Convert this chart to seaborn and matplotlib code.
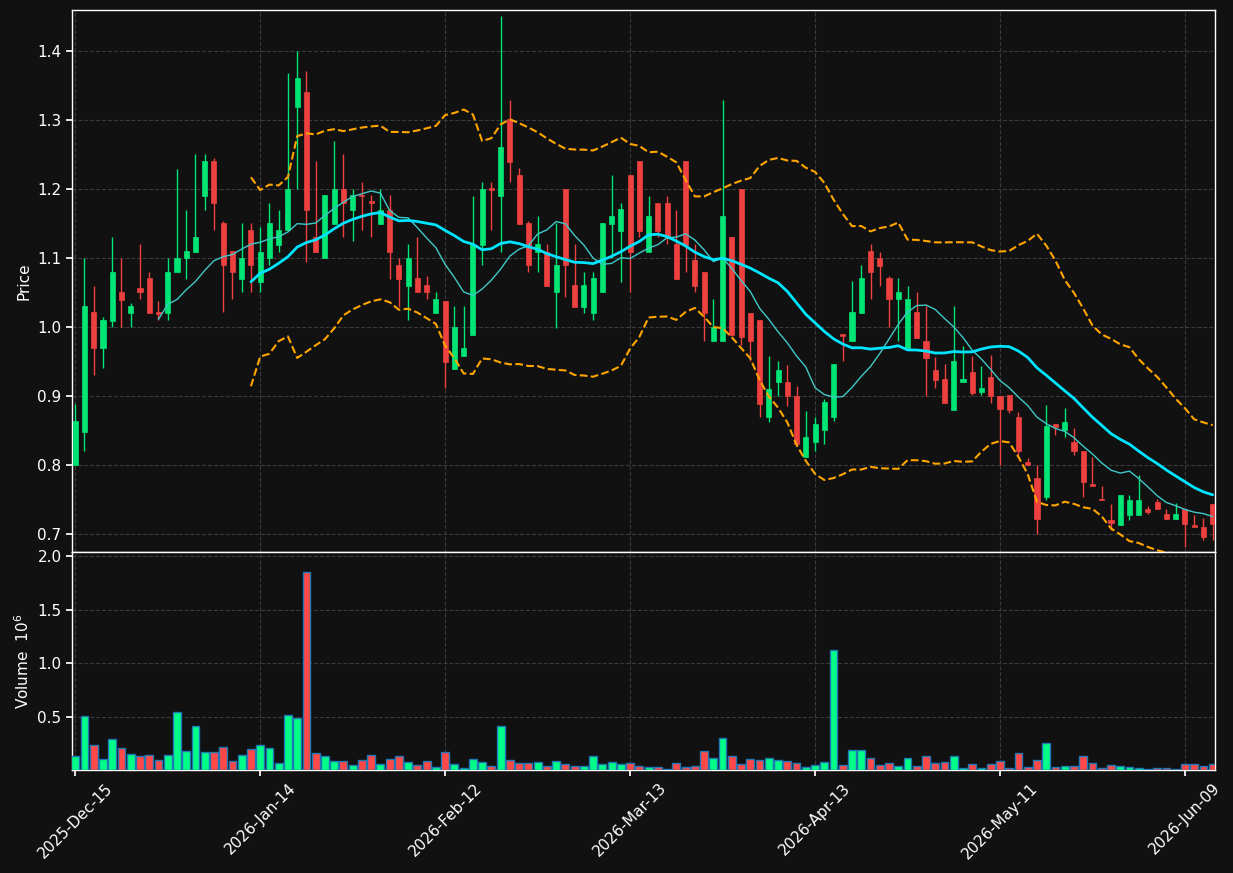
import numpy as np
import pandas as pd
import matplotlib
matplotlib.use("Agg")
import matplotlib.pyplot as plt
import seaborn as sns

# OHLC + volume (volume in millions), one row per trading session
opens = [0.800, 0.848, 1.021, 0.969, 1.009, 1.051, 1.020, 1.057, 1.071, 1.021,
         1.020, 1.080, 1.100, 1.109, 1.190, 1.240, 1.150, 1.110, 1.070, 1.140,
         1.065, 1.100, 1.119, 1.140, 1.318, 1.340, 1.130, 1.100, 1.149, 1.200,
         1.170, 1.191, 1.181, 1.149, 1.170, 1.090, 1.060, 1.071, 1.061, 1.020,
         1.037, 0.939, 0.958, 0.989, 1.119, 1.201, 1.190, 1.301, 1.220, 1.150,
         1.109, 1.109, 1.050, 1.200, 1.061, 1.029, 1.020, 1.050, 1.149, 1.139,
         1.220, 1.240, 1.108, 1.180, 1.180, 1.120, 1.240, 1.097, 1.080, 0.979,
         0.979, 1.130, 1.200, 1.020, 1.010, 0.870, 0.920, 0.920, 0.900, 0.812,
         0.834, 0.851, 0.870, 0.990, 0.979, 1.020, 1.110, 1.100, 1.071, 1.040,
         0.969, 1.021, 0.979, 0.937, 0.924, 0.880, 0.920, 0.934, 0.906, 0.928,
         0.900, 0.901, 0.869, 0.805, 0.781, 0.754, 0.859, 0.850, 0.834, 0.821,
         0.772, 0.750, 0.720, 0.713, 0.728, 0.728, 0.736, 0.746, 0.729, 0.722,
         0.736, 0.713, 0.710, 0.744]
highs = [0.888, 1.100, 1.060, 1.014, 1.130, 1.100, 1.035, 1.120, 1.080, 1.037,
         1.100, 1.229, 1.170, 1.250, 1.250, 1.245, 1.154, 1.110, 1.150, 1.150,
         1.145, 1.180, 1.170, 1.368, 1.400, 1.370, 1.240, 1.191, 1.270, 1.250,
         1.200, 1.210, 1.191, 1.200, 1.191, 1.100, 1.120, 1.130, 1.074, 1.050,
         1.037, 1.030, 1.030, 1.190, 1.210, 1.210, 1.450, 1.329, 1.230, 1.154,
         1.160, 1.120, 1.150, 1.200, 1.120, 1.080, 1.080, 1.150, 1.220, 1.180,
         1.220, 1.240, 1.190, 1.180, 1.190, 1.170, 1.240, 1.120, 1.080, 1.040,
         1.329, 1.130, 1.200, 1.020, 1.010, 0.958, 0.950, 0.945, 0.915, 0.878,
         0.870, 0.895, 0.947, 0.990, 1.066, 1.089, 1.120, 1.109, 1.074, 1.071,
         1.060, 1.051, 1.030, 0.957, 0.946, 1.030, 0.972, 0.958, 0.943, 0.959,
         0.900, 0.901, 0.877, 0.810, 0.800, 0.887, 0.859, 0.882, 0.854, 0.821,
         0.811, 0.769, 0.744, 0.757, 0.757, 0.786, 0.740, 0.751, 0.736, 0.745,
         0.736, 0.728, 0.723, 0.744]
lows = [0.800, 0.820, 0.930, 0.941, 1.000, 1.000, 1.000, 1.040, 1.020, 1.010,
        1.010, 1.080, 1.070, 1.109, 1.170, 1.140, 1.021, 1.040, 1.051, 1.051,
        1.051, 1.089, 1.109, 1.140, 1.200, 1.094, 1.108, 1.100, 1.149, 1.130,
        1.125, 1.140, 1.130, 1.149, 1.070, 1.029, 1.010, 1.050, 1.040, 1.020,
        0.912, 0.939, 0.958, 0.989, 1.089, 1.140, 1.109, 1.210, 1.149, 1.080,
        1.080, 1.060, 0.998, 1.044, 1.029, 1.020, 1.010, 1.050, 1.100, 1.065,
        1.050, 1.130, 1.108, 1.130, 1.120, 1.070, 1.080, 1.050, 0.979, 0.979,
        0.979, 0.989, 0.974, 0.950, 0.870, 0.863, 0.900, 0.885, 0.830, 0.812,
        0.821, 0.830, 0.864, 0.950, 0.979, 1.020, 1.040, 1.060, 1.000, 0.979,
        0.969, 0.984, 0.900, 0.911, 0.890, 0.880, 0.920, 0.901, 0.901, 0.890,
        0.800, 0.875, 0.812, 0.800, 0.700, 0.749, 0.843, 0.840, 0.815, 0.753,
        0.769, 0.749, 0.706, 0.713, 0.721, 0.728, 0.729, 0.736, 0.722, 0.722,
        0.681, 0.710, 0.691, 0.691]
closes = [0.864, 1.030, 0.969, 1.010, 1.080, 1.039, 1.030, 1.050, 1.020, 1.019,
          1.080, 1.100, 1.110, 1.130, 1.240, 1.180, 1.089, 1.080, 1.100, 1.089,
          1.108, 1.150, 1.140, 1.200, 1.360, 1.170, 1.108, 1.191, 1.200, 1.180,
          1.191, 1.189, 1.180, 1.170, 1.108, 1.070, 1.100, 1.050, 1.050, 1.040,
          0.949, 1.000, 0.970, 1.120, 1.200, 1.199, 1.260, 1.239, 1.149, 1.089,
          1.120, 1.060, 1.090, 1.089, 1.029, 1.061, 1.071, 1.150, 1.161, 1.171,
          1.109, 1.139, 1.161, 1.139, 1.130, 1.070, 1.119, 1.060, 1.020, 1.000,
          1.161, 0.989, 0.985, 0.979, 0.888, 0.910, 0.938, 0.900, 0.830, 0.840,
          0.860, 0.891, 0.947, 0.987, 1.021, 1.071, 1.080, 1.088, 1.040, 1.051,
          1.040, 0.984, 0.955, 0.923, 0.890, 0.950, 0.925, 0.905, 0.911, 0.900,
          0.881, 0.879, 0.820, 0.800, 0.722, 0.856, 0.855, 0.863, 0.820, 0.776,
          0.769, 0.749, 0.716, 0.757, 0.750, 0.750, 0.732, 0.736, 0.722, 0.729,
          0.715, 0.710, 0.695, 0.714]
volumes = [0.131, 0.509, 0.238, 0.106, 0.294, 0.209, 0.153, 0.131, 0.144, 0.097,
           0.144, 0.538, 0.181, 0.416, 0.172, 0.172, 0.219, 0.088, 0.144, 0.200,
           0.238, 0.209, 0.069, 0.519, 0.491, 1.850, 0.163, 0.134, 0.088, 0.088,
           0.050, 0.097, 0.144, 0.059, 0.106, 0.134, 0.078, 0.050, 0.088, 0.028,
           0.172, 0.059, 0.019, 0.106, 0.078, 0.038, 0.416, 0.097, 0.069, 0.069,
           0.078, 0.038, 0.088, 0.059, 0.038, 0.038, 0.134, 0.059, 0.078, 0.059,
           0.069, 0.038, 0.028, 0.028, 0.013, 0.069, 0.028, 0.038, 0.181, 0.116,
           0.303, 0.134, 0.059, 0.106, 0.097, 0.116, 0.097, 0.088, 0.069, 0.028,
           0.050, 0.078, 1.122, 0.050, 0.191, 0.191, 0.116, 0.050, 0.069, 0.038,
           0.116, 0.038, 0.134, 0.069, 0.078, 0.134, 0.019, 0.059, 0.019, 0.059,
           0.088, 0.019, 0.163, 0.028, 0.097, 0.256, 0.028, 0.038, 0.038, 0.134,
           0.069, 0.019, 0.050, 0.038, 0.028, 0.019, 0.006, 0.019, 0.019, 0.006,
           0.059, 0.059, 0.038, 0.059]

tick_pos = [0, 20, 40, 60, 80, 100, 120]
tick_labels = ["2025-Dec-15", "2026-Jan-14", "2026-Feb-12", "2026-Mar-13",
               "2026-Apr-13", "2026-May-11", "2026-Jun-09"]

df = pd.DataFrame({"open": opens, "high": highs, "low": lows,
                   "close": closes, "volume": volumes})
df["idx"] = np.arange(len(df))
df["dir"] = np.where(df["close"] >= df["open"], "up", "down")
df["ma10"] = df["close"].rolling(10).mean()
df["ma20"] = df["close"].rolling(20).mean()
sd = df["close"].rolling(20).std(ddof=0)
df["bb_up"] = df["ma20"] + 2 * sd
df["bb_lo"] = df["ma20"] - 2 * sd

BG = "#111111"
sns.set_theme(style="dark", rc={
    "figure.facecolor": BG, "axes.facecolor": BG, "axes.edgecolor": "white",
    "axes.labelcolor": "white", "xtick.color": "white", "ytick.color": "white",
    "text.color": "white", "grid.color": "#3a3a3a", "grid.linestyle": "--",
    "axes.grid": True,
})
plt.rcParams["font.family"] = ["DejaVu Sans"]

up_c, dn_c = "#00e676", "#ef4040"
vol_pal = {"up": "#00ff88", "down": "#ff4848"}

fig = plt.figure(figsize=(12.33, 8.73), dpi=100)
ax = fig.add_axes([0.0584, 0.3677, 0.927, 0.6208])
axv = fig.add_axes([0.0584, 0.1180, 0.927, 0.2497], sharex=ax)

# candles
cols = np.where(df["dir"] == "up", up_c, dn_c)
ax.vlines(df["idx"], df["low"], df["high"], colors=cols, linewidth=1, zorder=2)
body_lo = np.minimum(df["open"], df["close"])
body_h = np.maximum(np.abs(df["close"] - df["open"]), 0.002)
ax.bar(df["idx"], body_h, bottom=body_lo, width=0.55, color=cols,
       edgecolor=cols, linewidth=0.5, zorder=3)

# moving averages and bands
sns.lineplot(data=df, x="idx", y="ma10", ax=ax, color="#40c8c8", lw=1, zorder=4)
sns.lineplot(data=df, x="idx", y="ma20", ax=ax, color="#00e5ff", lw=2, zorder=4)
sns.lineplot(data=df, x="idx", y="bb_up", ax=ax, color="orange", lw=1.5,
             linestyle="--", zorder=4)
sns.lineplot(data=df, x="idx", y="bb_lo", ax=ax, color="orange", lw=1.5,
             linestyle="--", zorder=4)

ax.set_ylim(0.674, 1.459)
ax.set_yticks(np.arange(0.7, 1.41, 0.1))
ax.set_ylabel("Price", fontsize=11)
ax.set_xlabel("")
ax.grid(True, color="#3a3a3a", linestyle="--", linewidth=0.8)
ax.tick_params(axis="x", labelbottom=False, length=0)
ax.tick_params(axis="y", labelsize=11, length=4, color="white", left=True)

# volume
sns.barplot(data=df, x="idx", y="volume", hue="dir", palette=vol_pal,
            native_scale=True, dodge=False, legend=False, width=0.85,
            saturation=1, edgecolor="#1f77b4", linewidth=1, ax=axv, zorder=3)
axv.set_ylim(0.0, 2.04)
axv.set_yticks([0.5, 1.0, 1.5, 2.0])
axv.set_ylabel("Volume  $10^6$", fontsize=11)
axv.set_xlabel("")
axv.grid(True, color="#3a3a3a", linestyle="--", linewidth=0.8)
axv.set_xticks(tick_pos)
axv.set_xticklabels(tick_labels, rotation=45, ha="center", fontsize=11)
axv.tick_params(axis="x", length=4, color="white", bottom=True)
axv.tick_params(axis="y", labelsize=11, length=4, color="white", left=True)
axv.set_xlim(-0.35, 123.25)

for a in (ax, axv):
    for s in a.spines.values():
        s.set_color("white")
        s.set_linewidth(1)

fig.savefig("out.png", dpi=100, facecolor=BG)
